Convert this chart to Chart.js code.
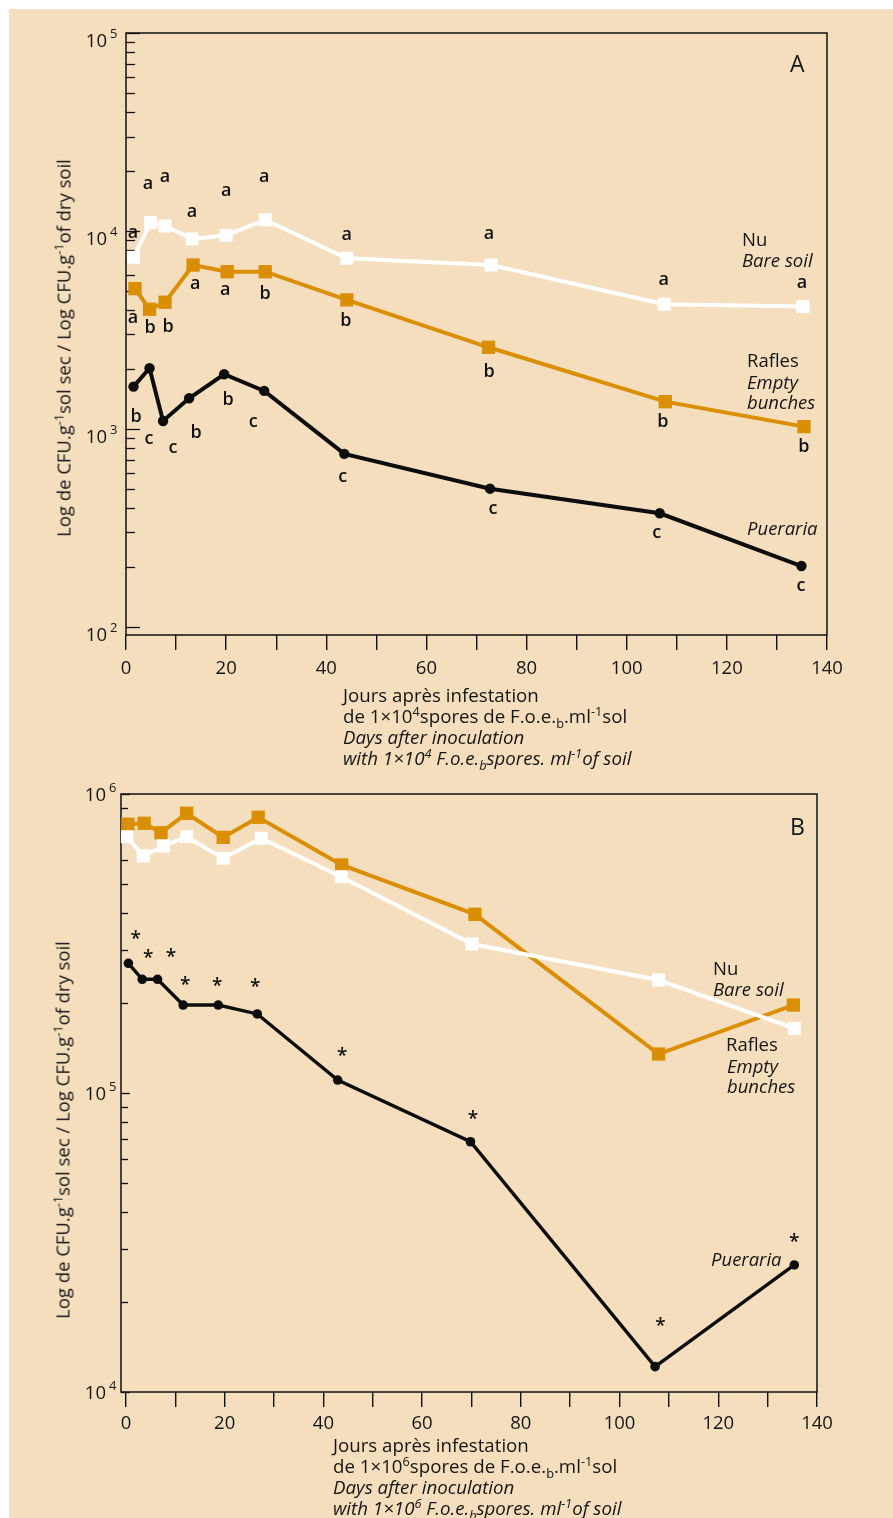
<!DOCTYPE html>
<html>
<head>
<meta charset="utf-8">
<script src="https://cdn.jsdelivr.net/npm/chart.js@4.4.1/dist/chart.umd.min.js"></script>
<style>
  html, body { margin: 0; padding: 0; background: #ffffff; }
  body { width: 893px; height: 1518px; position: relative; overflow: hidden;
         font-family: "Open Sans", "DejaVu Sans", sans-serif; color: #151515; }
  #sheet { position: absolute; left: 9px; top: 9px; right: 0; bottom: 0; background: #F5DEBD; }
  canvas { position: absolute; left: 0; }
  .txt { position: absolute; font-size: 18.5px; line-height: 21px; white-space: nowrap; }
  .mid { transform: translateY(-50%); }
  .it { font-style: italic; }
  sup, sub { font-size: 0.68em; line-height: 0; }
  .xt { position: absolute; font-size: 18.7px; line-height: 21px; white-space: nowrap; }
  .yt { position: absolute; font-size: 18.5px; white-space: nowrap;
        transform: translate(-50%, -50%) rotate(-90deg); }
  .panel { position: absolute; font-size: 23px; transform: translateY(-50%); }
</style>
</head>
<body>
<div id="sheet"></div>
<canvas id="chartA" width="893" height="700" style="top:0px"></canvas>
<canvas id="chartB" width="893" height="700" style="top:760px"></canvas>

<!-- panel A texts -->
<div class="panel" style="left:790px; top:63px">A</div>
<div class="txt mid" style="left:742px; top:238px">Nu</div>
<div class="txt mid it" style="left:742px; top:259px">Bare soil</div>
<div class="txt mid" style="left:747px; top:359px">Rafles</div>
<div class="txt mid it" style="left:747px; top:381px">Empty</div>
<div class="txt mid it" style="left:747px; top:401px">bunches</div>
<div class="txt mid it" style="left:747px; top:527px">Pueraria</div>
<div class="yt" style="left:63px; top:348px">Log de CFU.g<sup>-1</sup>sol sec / Log CFU.g<sup>-1</sup>of dry soil</div>
<div class="xt" style="left:343px; top:684px">
  <div>Jours après infestation</div>
  <div>de 1×10<sup>4</sup>spores de F.o.e.<sub>b</sub>.ml<sup>-1</sup>sol</div>
  <div class="it">Days after inoculation</div>
  <div class="it">with 1×10<sup>4</sup> F.o.e.<sub>b</sub>spores. ml<sup>-1</sup>of soil</div>
</div>

<!-- panel B texts -->
<div class="panel" style="left:790px; top:826px">B</div>
<div class="txt mid" style="left:713px; top:967px">Nu</div>
<div class="txt mid it" style="left:713px; top:988px">Bare soil</div>
<div class="txt mid" style="left:726px; top:1043px">Rafles</div>
<div class="txt mid it" style="left:727px; top:1065px">Empty</div>
<div class="txt mid it" style="left:727px; top:1085px">bunches</div>
<div class="txt mid it" style="left:711px; top:1258px">Pueraria</div>
<div class="yt" style="left:62px; top:1130px">Log de CFU.g<sup>-1</sup>sol sec / Log CFU.g<sup>-1</sup>of dry soil</div>
<div class="xt" style="left:333px; top:1434px">
  <div>Jours après infestation</div>
  <div>de 1×10<sup>6</sup>spores de F.o.e.<sub>b</sub>.ml<sup>-1</sup>sol</div>
  <div class="it">Days after inoculation</div>
  <div class="it">with 1×10<sup>6</sup> F.o.e.<sub>b</sub>spores. ml<sup>-1</sup>of soil</div>
</div>

<script>
// ---- Panel A: 1×10^4 spores inoculum (CFU per g of dry soil) ----
const daysNuA      = [1.5, 4.9, 7.8, 13.2, 20.0, 27.8, 44.1, 72.9, 107.5, 135.2];
const cfuNuA       = [7360, 11020, 10600, 9120, 9510, 11370, 7280, 6730, 4265, 4150];
const daysRaflesA  = [1.8, 4.7, 7.8, 13.4, 20.2, 27.8, 44.1, 72.4, 107.7, 135.4];
const cfuRaflesA   = [5115, 4025, 4365, 6730, 6225, 6225, 4485, 2585, 1373, 1027];
const daysPuerA    = [1.5, 4.7, 7.4, 12.6, 19.6, 27.6, 43.6, 72.7, 106.6, 134.9];
const cfuPuerA     = [1636, 2026, 1097, 1429, 1889, 1556, 748, 499, 375, 203];

// significance letters for panel A, with the spot (day, CFU) where each sits
const lettersNuA      = ['a','a','a','a','a','a','a','a','a','a'];
const letterDayNuA    = [1.4, 4.4, 7.8, 13.2, 20.0, 27.6, 44.1, 72.5, 107.4, 135.0];
const letterCfuNuA    = [9770, 17250, 18740, 12470, 15920, 18740, 9550, 9660, 5660, 5460];
const lettersRaflesA  = ['a','b','b','a','a','b','b','b','b','b'];
const letterDayRafA   = [1.4, 4.8, 8.4, 13.8, 19.8, 27.8, 43.9, 72.5, 107.2, 135.4];
const letterCfuRafA   = [3640, 3236, 3270, 5400, 5035, 4810, 3510, 1942, 1084, 811];
const lettersPuerA    = ['b','c','c','b','b','c','c','c','c','c'];
const letterDayPuerA  = [2.0, 4.6, 9.4, 14.0, 20.4, 25.4, 43.3, 73.3, 106.0, 134.8];
const letterCfuPuerA  = [1151, 889, 802, 955, 1400, 1084, 573, 394, 298, 161];

// ---- Panel B: 1×10^6 spores inoculum ----
const daysNuB      = [0.2, 3.5, 7.6, 12.3, 19.7, 27.4, 43.6, 70.1, 107.9, 135.4];
const cfuNuB       = [719600, 620600, 670000, 720000, 609500, 711000, 529000, 315000, 238700, 164500];
const daysRaflesB  = [0.4, 3.7, 7.1, 12.3, 19.7, 26.8, 43.7, 70.7, 107.9, 135.2];
const cfuRaflesB   = [792000, 798000, 742000, 862000, 716000, 836000, 579000, 396000, 135000, 196900];
const daysPuerB    = [0.5, 3.3, 6.4, 11.6, 18.7, 26.6, 42.9, 69.8, 107.2, 135.4];
const cfuPuerB     = [271500, 240000, 240000, 196900, 196900, 183800, 110500, 68700, 12160, 26600];

// significance stars for Pueraria in panel B
const starDayPuerB = [2.0, 4.5, 9.1, 12.0, 18.5, 26.2, 43.8, 70.3, 108.3, 135.4];
const starCfuPuerB = [340600, 294300, 297200, 238800, 237700, 235500, 138400, 85100, 17300, 33000];

// axis ticks
const xTickValues = [0, 10, 20, 30, 40, 50, 60, 70, 80, 90, 100, 110, 120, 130, 140];

const ORANGE = '#DA8F02';
const WHITE = '#FFFFFF';
const BLACK = '#0d0d0d';
const FONT = '"Open Sans", "DejaVu Sans", sans-serif';

const pts = (xs, ys) => xs.map((x, i) => ({ x: x, y: ys[i] }));
const marks = (texts, xs, ys) => texts.map((t, i) => ({ t: t, x: xs[i], y: ys[i] }));

// Frame, inward log ticks and 10^n labels
const framePlugin = {
  id: 'frame',
  beforeDatasetsDraw(chart, args, o) {
    const { ctx, chartArea: a } = chart;
    const ys = chart.scales.y;
    ctx.save();
    ctx.strokeStyle = '#111';
    ctx.lineWidth = 1.5;
    ctx.strokeRect(a.left, a.top, a.right - a.left, a.bottom - a.top);
    ctx.lineWidth = 1.3;
    const lo = Math.floor(Math.log10(ys.min)), hi = Math.ceil(Math.log10(ys.max));
    for (let d = lo; d <= hi; d++) {
      for (let m = 1; m <= 9; m++) {
        const v = m * Math.pow(10, d);
        if (v < ys.min * 0.999 || v > ys.max * 1.001) continue;
        const y = Math.round(ys.getPixelForValue(v)) + 0.5;
        const len = m === 1 ? o.major : o.minor;
        ctx.beginPath();
        ctx.moveTo(a.left, y);
        ctx.lineTo(a.left + len, y);
        ctx.stroke();
        if (m === 1) {
          ctx.fillStyle = '#151515';
          ctx.font = '18.5px ' + FONT;
          ctx.textAlign = 'right';
          ctx.textBaseline = 'middle';
          ctx.fillText('10', o.labelX, y + o.labelDy);
          ctx.font = '13px ' + FONT;
          ctx.textAlign = 'left';
          ctx.fillText(String(d), o.labelX + 3, y + o.labelDy - 7);
        }
      }
    }
    ctx.restore();
  },
  afterDatasetsDraw(chart, args, o) {
    const { ctx } = chart;
    const xs = chart.scales.x, ys = chart.scales.y;
    ctx.save();
    ctx.fillStyle = '#111';
    ctx.textAlign = 'center';
    ctx.textBaseline = 'alphabetic';
    for (const m of (o.marks || [])) {
      const star = m.t === '*';
      ctx.font = (star ? '600 19px ' : '600 18px ') + FONT;
      const px = xs.getPixelForValue(m.x);
      const py = ys.getPixelForValue(m.y);
      ctx.fillText(m.t, px, py + (star ? 11 : 5));
    }
    ctx.restore();
  }
};

function makeChart(id, cfg) {
  return new Chart(document.getElementById(id), {
    type: 'line',
    data: {
      datasets: [
        { data: pts(cfg.puer[0], cfg.puer[1]), borderColor: BLACK, borderWidth: cfg.blackWidth,
          pointStyle: 'circle', pointRadius: cfg.dotRadius, pointBackgroundColor: BLACK,
          pointBorderWidth: 0, tension: 0 },
        { data: pts(cfg.nu[0], cfg.nu[1]), borderColor: WHITE, borderWidth: 4,
          pointStyle: 'rect', pointRadius: 9.2, pointBackgroundColor: WHITE,
          pointBorderWidth: 0, tension: 0 },
        { data: pts(cfg.raf[0], cfg.raf[1]), borderColor: ORANGE, borderWidth: 4,
          pointStyle: 'rect', pointRadius: 9.4, pointBackgroundColor: ORANGE,
          pointBorderWidth: 0, tension: 0 }
      ]
    },
    options: {
      responsive: false,
      devicePixelRatio: 1,
      animation: false,
      layout: { padding: cfg.padding },
      plugins: {
        legend: { display: false },
        tooltip: { enabled: false },
        frame: cfg.frame
      },
      scales: {
        x: {
          type: 'linear', min: cfg.xMin, max: 140,
          afterBuildTicks: s => { s.ticks = xTickValues.map(v => ({ value: v })); },
          afterFit: s => { s.height = cfg.xHeight; },
          ticks: {
            autoSkip: false, maxRotation: 0, padding: cfg.xPad, color: '#151515',
            font: { family: FONT, size: 18.5 },
            callback: v => (v % 20 === 0 ? String(v) : '')
          },
          grid: { display: true, drawOnChartArea: false, drawTicks: true, tickLength: 15,
                  color: '#111', lineWidth: 1.4 },
          border: { display: false }
        },
        y: {
          type: 'logarithmic', min: cfg.yMin, max: cfg.yMax,
          afterFit: s => { s.width = cfg.yWidth; },
          ticks: { display: false },
          grid: { display: false },
          border: { display: false }
        }
      }
    },
    plugins: [framePlugin]
  });
}

makeChart('chartA', {
  nu: [daysNuA, cfuNuA], raf: [daysRaflesA, cfuRaflesA], puer: [daysPuerA, cfuPuerA],
  blackWidth: 4, dotRadius: 5.2, xMin: 0, xPad: 8,
  yMin: 91, yMax: 100000, yWidth: 126, xHeight: 65,
  padding: { top: 33, right: 66, left: 0, bottom: 0 },
  frame: {
    major: 14, minor: 9, labelX: 107, labelDy: 8,
    marks: [].concat(
      marks(lettersNuA, letterDayNuA, letterCfuNuA),
      marks(lettersRaflesA, letterDayRafA, letterCfuRafA),
      marks(lettersPuerA, letterDayPuerA, letterCfuPuerA))
  }
});

makeChart('chartB', {
  nu: [daysNuB, cfuNuB], raf: [daysRaflesB, cfuRaflesB], puer: [daysPuerB, cfuPuerB],
  blackWidth: 3.4, dotRadius: 4.8, xMin: -1, xPad: 6,
  yMin: 10000, yMax: 1000000, yWidth: 121, xHeight: 68,
  padding: { top: 34, right: 76, left: 0, bottom: 0 },
  frame: {
    major: 9, minor: 7, labelX: 106, labelDy: 1,
    marks: marks(starDayPuerB.map(() => '*'), starDayPuerB, starCfuPuerB)
  }
});
</script>
</body>
</html>
